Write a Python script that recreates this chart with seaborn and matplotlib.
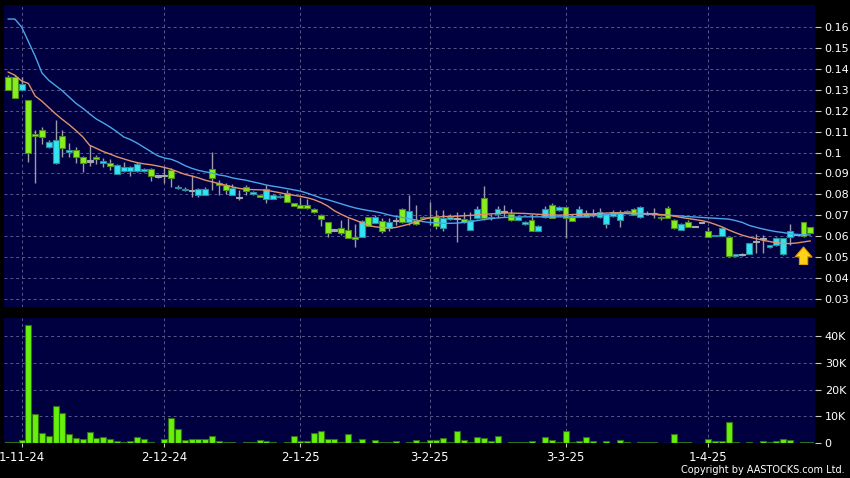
import numpy as np
import matplotlib
matplotlib.use('Agg')
import matplotlib.pyplot as plt
import seaborn as sns

# daily candles, 30-10-2024 .. 25-04-2025 (one entry per trading day)
open_ = [0.136, 0.136, 0.130, 0.125, 0.109, 0.111, 0.1028, 0.0948, 0.108, 0.1003,
         0.101, 0.0977, 0.096, 0.0977, 0.0948, 0.0948, 0.0897, 0.091, 0.091, 0.0913,
         0.0913, 0.092, 0.0888, 0.089, 0.0916, 0.0832, 0.0822, 0.082, 0.0797, 0.0797,
         0.092, 0.0856, 0.0845, 0.0797, 0.0786, 0.0837, 0.080, 0.0797, 0.0776, 0.0776,
         0.0786, 0.0808, 0.0757, 0.0748, 0.0748, 0.0729, 0.0703, 0.0666, 0.063, 0.0638,
         0.063, 0.0595, 0.0595, 0.0693, 0.0665, 0.0674, 0.0638, 0.0677, 0.0729, 0.067,
         0.0677, 0.0693, 0.0693, 0.0693, 0.0638, 0.0684, 0.0685, 0.0681, 0.063, 0.0686,
         0.0781, 0.0686, 0.0706, 0.072, 0.0706, 0.0677, 0.0658, 0.0677, 0.0626, 0.0693,
         0.0749, 0.0725, 0.0738, 0.0693, 0.0693, 0.071, 0.0705, 0.0693, 0.066, 0.0695,
         0.0677, 0.0717, 0.0729, 0.0693, 0.0708, 0.071, 0.0693, 0.0736, 0.0677, 0.063,
         0.0666, 0.0645, 0.0666, 0.0626, 0.060, 0.0602, 0.0595, 0.0505, 0.0514, 0.0514,
         0.0574, 0.059, 0.0547, 0.0558, 0.0514, 0.0595, 0.0609, 0.0666, 0.0645]
high_ = [0.137, 0.137, 0.136, 0.125, 0.111, 0.112, 0.106, 0.1156, 0.111, 0.1045,
         0.1025, 0.0985, 0.1037, 0.099, 0.0975, 0.097, 0.0945, 0.0955, 0.0935, 0.0955,
         0.0925, 0.0925, 0.089, 0.0933, 0.0925, 0.0845, 0.0835, 0.0893, 0.083, 0.0835,
         0.1004, 0.0869, 0.0853, 0.0848, 0.0821, 0.0845, 0.0815, 0.080, 0.0845, 0.080,
         0.0795, 0.0821, 0.076, 0.0786, 0.0776, 0.0735, 0.0706, 0.0668, 0.0635, 0.0677,
         0.0686, 0.066, 0.0677, 0.0693, 0.0703, 0.0686, 0.0685, 0.0693, 0.0735, 0.0797,
         0.0749, 0.0697, 0.0765, 0.0725, 0.0725, 0.0705, 0.0717, 0.0717, 0.0715, 0.0745,
         0.084, 0.0705, 0.0745, 0.0749, 0.073, 0.0695, 0.0675, 0.0705, 0.0655, 0.0745,
         0.0758, 0.0745, 0.0741, 0.0705, 0.0745, 0.0725, 0.0729, 0.0733, 0.0705, 0.0725,
         0.0725, 0.0727, 0.0735, 0.0745, 0.0722, 0.0733, 0.0697, 0.0745, 0.0682, 0.0665,
         0.0677, 0.0648, 0.0668, 0.0645, 0.0606, 0.0645, 0.0595, 0.0515, 0.0518, 0.0566,
         0.0613, 0.0605, 0.0558, 0.0598, 0.0593, 0.0657, 0.0612, 0.0666, 0.0645]
low_ = [0.130, 0.126, 0.130, 0.0955, 0.0855, 0.104, 0.102, 0.0945, 0.098, 0.0977,
        0.095, 0.0908, 0.0935, 0.0945, 0.093, 0.0915, 0.0897, 0.0905, 0.089, 0.0905,
        0.0905, 0.0865, 0.088, 0.0856, 0.0837, 0.0825, 0.0815, 0.0789, 0.079, 0.0795,
        0.082, 0.0797, 0.080, 0.0797, 0.0773, 0.0797, 0.0795, 0.0786, 0.076, 0.0776,
        0.0782, 0.0765, 0.0746, 0.0736, 0.073, 0.071, 0.0649, 0.0595, 0.0625, 0.0605,
        0.059, 0.055, 0.0595, 0.0649, 0.0665, 0.0618, 0.0626, 0.0655, 0.0665, 0.0653,
        0.0653, 0.0684, 0.0653, 0.0636, 0.0625, 0.068, 0.0574, 0.0665, 0.063, 0.0684,
        0.0677, 0.068, 0.0686, 0.0693, 0.0674, 0.0677, 0.0655, 0.0626, 0.0626, 0.0686,
        0.0686, 0.072, 0.0593, 0.0674, 0.069, 0.069, 0.069, 0.0686, 0.064, 0.069,
        0.0645, 0.0715, 0.0701, 0.0688, 0.0705, 0.0689, 0.068, 0.0689, 0.0636, 0.063,
        0.0645, 0.0642, 0.0664, 0.0595, 0.060, 0.0602, 0.050, 0.0505, 0.0505, 0.0514,
        0.0518, 0.0518, 0.0545, 0.0555, 0.051, 0.0558, 0.0606, 0.0598, 0.0614]
close_ = [0.130, 0.126, 0.133, 0.100, 0.108, 0.1075, 0.105, 0.106, 0.102, 0.1012,
          0.0977, 0.0948, 0.096, 0.0968, 0.096, 0.0935, 0.0939, 0.0929, 0.093, 0.0945,
          0.0922, 0.0888, 0.0888, 0.089, 0.0877, 0.0836, 0.0826, 0.082, 0.0827, 0.0827,
          0.0877, 0.0845, 0.0821, 0.0829, 0.0786, 0.0818, 0.0813, 0.0786, 0.0824, 0.0797,
          0.0792, 0.0765, 0.0746, 0.0736, 0.0737, 0.0717, 0.0684, 0.0614, 0.063, 0.0614,
          0.0593, 0.0585, 0.0674, 0.0649, 0.0693, 0.0626, 0.0666, 0.0677, 0.067, 0.0722,
          0.0658, 0.0686, 0.0686, 0.0649, 0.0686, 0.0693, 0.0685, 0.067, 0.0677, 0.0729,
          0.0686, 0.069, 0.0729, 0.072, 0.0677, 0.0693, 0.067, 0.0626, 0.0649, 0.0729,
          0.0686, 0.0738, 0.0686, 0.0674, 0.0729, 0.0693, 0.0705, 0.0717, 0.0705, 0.0715,
          0.0717, 0.0722, 0.0701, 0.0738, 0.0712, 0.071, 0.0686, 0.0689, 0.0638, 0.0657,
          0.0645, 0.0645, 0.0666, 0.0595, 0.0604, 0.0638, 0.0505, 0.0514, 0.0514, 0.0566,
          0.0574, 0.059, 0.0556, 0.0593, 0.0593, 0.0626, 0.0609, 0.060, 0.0614]

# volume in thousands of shares
vol_k = [0.5, 0.3, 1.0, 44.0, 10.7, 3.9, 2.6, 13.9, 11.4, 3.4,
         1.9, 1.4, 4.0, 1.9, 2.1, 1.6, 0.8, 0.3, 0.6, 2.1,
         1.4, 0.3, 0.1, 1.6, 9.4, 5.2, 1.0, 1.4, 1.4, 1.4,
         2.7, 0.9, 0.4, 0.4, 0.1, 0.3, 0.5, 1.2, 0.6, 0.2,
         0.1, 0.4, 2.7, 0.9, 0.9, 3.9, 4.6, 1.5, 1.5, 0.5,
         3.2, 0.2, 1.5, 0.1, 1.0, 0.3, 0.3, 0.7, 0.1, 0.3,
         1.1, 0.3, 1.0, 1.0, 1.7, 0.3, 4.5, 1.1, 0.3, 2.1,
         1.9, 0.9, 2.7, 0.1, 0.3, 0.4, 0.3, 0.7, 0.1, 2.1,
         1.1, 0.2, 4.5, 0.3, 0.7, 2.1, 0.9, 0.1, 0.7, 0.1,
         1.1, 0.4, 0.1, 0.3, 0.3, 0.3, 0.1, 0.1, 3.2, 0.3,
         0.2, 0.1, 0.1, 1.4, 0.6, 0.6, 7.7, 0.2, 0.1, 0.3,
         0.1, 0.7, 0.5, 0.7, 1.4, 1.2, 0.1, 0.5, 0.5]

# moving averages as drawn on the chart
ma_fast = [0.1385, 0.137, 0.1342, 0.133, 0.127, 0.1245, 0.1215, 0.1185, 0.1158, 0.1133,
           0.1105, 0.1075, 0.1035, 0.102, 0.1005, 0.0993, 0.098, 0.097, 0.096, 0.0952,
           0.0946, 0.0942, 0.0936, 0.0929, 0.092, 0.0908, 0.0896, 0.0888, 0.0879, 0.0868,
           0.086, 0.0852, 0.0844, 0.0836, 0.0829, 0.0824, 0.0823, 0.0822, 0.082, 0.0814,
           0.0808, 0.0801, 0.0796, 0.0791, 0.0784, 0.0775, 0.0762, 0.0745, 0.0722, 0.0705,
           0.069, 0.0678, 0.0665, 0.0652, 0.0645, 0.0642, 0.064, 0.0642, 0.065, 0.0658,
           0.067, 0.068, 0.0688, 0.0692, 0.0694, 0.0695, 0.0696, 0.0698, 0.07, 0.0702,
           0.0705, 0.0707, 0.0709, 0.0711, 0.0711, 0.071, 0.0709, 0.0707, 0.0705, 0.0703,
           0.0702, 0.0701, 0.0702, 0.0704, 0.0705, 0.0706, 0.0707, 0.0709, 0.0711, 0.0712,
           0.0712, 0.0711, 0.071, 0.0709, 0.0708, 0.0706, 0.0704, 0.0701, 0.0696, 0.069,
           0.0685, 0.068, 0.0675, 0.0668, 0.0657, 0.0645, 0.063, 0.0617, 0.0605, 0.0596,
           0.0589, 0.0581, 0.0575, 0.0569, 0.0566, 0.0565, 0.0568, 0.0573, 0.0578]
ma_slow = [0.1638, 0.1638, 0.160, 0.153, 0.146, 0.138, 0.1345, 0.132, 0.1295, 0.1265,
           0.1235, 0.1212, 0.1185, 0.116, 0.1142, 0.1122, 0.110, 0.1075, 0.1062, 0.1045,
           0.1025, 0.1005, 0.0985, 0.0974, 0.0968, 0.0955, 0.0938, 0.0925, 0.0915, 0.0908,
           0.0902, 0.0893, 0.0888, 0.0879, 0.0873, 0.0868, 0.086, 0.0853, 0.0845, 0.0839,
           0.0834, 0.0828, 0.0822, 0.0816, 0.0806, 0.0795, 0.0783, 0.0775, 0.0765, 0.0755,
           0.0745, 0.0736, 0.0729, 0.0723, 0.0718, 0.0711, 0.0702, 0.0695, 0.069, 0.0684,
           0.0678, 0.067, 0.0666, 0.0664, 0.0662, 0.0662, 0.0663, 0.0666, 0.067, 0.0675,
           0.068, 0.0684, 0.0688, 0.069, 0.0691, 0.0692, 0.0693, 0.0693, 0.0693, 0.0693,
           0.0693, 0.0693, 0.0693, 0.0693, 0.0694, 0.0696, 0.0698, 0.070, 0.0703, 0.0706,
           0.0709, 0.0708, 0.0707, 0.0706, 0.0705, 0.0704, 0.0702, 0.0701, 0.0699, 0.0697,
           0.0694, 0.0692, 0.069, 0.0688, 0.0686, 0.0684, 0.0682, 0.0675, 0.0666, 0.0652,
           0.0643, 0.0635, 0.0628, 0.0622, 0.0618, 0.0612, 0.0609, 0.0607, 0.0606]

date_ticks = [2, 23, 43, 62, 82, 103]
date_labels = ['1-11-24', '2-12-24', '2-1-25', '3-2-25', '3-3-25', '1-4-25']
price_ticks = [0.03, 0.04, 0.05, 0.06, 0.07, 0.08, 0.09, 0.10, 0.11, 0.12, 0.13, 0.14, 0.15, 0.16]
vol_ticks = [0, 10, 20, 30, 40]
vol_labels = ['0', '10K', '20K', '30K', '40K']
signal_day = 117

BG = '#000040'
GRID = '#58588a'
UP_FILL, UP_EDGE = '#33e3f2', '#2a8d9c'
DN_FILL, DN_EDGE = '#86f01e', '#4f8c1c'
FLAT = '#a8a8b0'

sns.set_style('dark')
plt.rcParams['font.family'] = ['DejaVu Sans']

fig = plt.figure(figsize=(8.5, 4.78), dpi=100, facecolor='black')
ax = fig.add_axes([0.0047, 0.3577, 0.9541, 0.6318])
axv = fig.add_axes([0.0047, 0.0732, 0.9541, 0.2615])

x = np.arange(len(close_))
o = np.array(open_)
c = np.array(close_)
up = c > o
down = c < o
mid = (o + c) / 2
h = np.maximum(np.abs(c - o), 0.0006)
fill = np.where(up, UP_FILL, np.where(down, DN_FILL, FLAT))
edge = np.where(up, UP_EDGE, np.where(down, DN_EDGE, FLAT))

# wicks then bodies
ax.vlines(x, low_, high_, color='#9c9cab', lw=1.0, zorder=2)
ax.bar(x, h, bottom=mid - h / 2, width=0.86, color=fill, edgecolor=edge, linewidth=0.8, zorder=3)

sns.lineplot(x=x, y=ma_slow, ax=ax, color='#4aa6ea', lw=1.0, zorder=4)
sns.lineplot(x=x, y=ma_fast, ax=ax, color='#e0916c', lw=1.0, zorder=4)

ax.annotate('', xy=(signal_day, 0.0562), xytext=(signal_day, 0.0452),
            arrowprops=dict(arrowstyle='simple,head_length=0.7,head_width=1.2,tail_width=0.6',
                            fc='#ffd21a', ec='#d99a00', lw=0.8), zorder=6)

sns.barplot(x=x, y=vol_k, ax=axv, native_scale=True, color='#66f00c', edgecolor='#2f7012',
            linewidth=0.8, width=0.9, errorbar=None, saturation=1)

for a in (ax, axv):
    a.set_facecolor(BG)
    for s in a.spines.values():
        s.set_visible(False)
    a.set_xlim(-0.59, 118.68)
    a.set_xticks(date_ticks)
    a.yaxis.tick_right()
    a.grid(True, color=GRID, linestyle=(0, (3, 3)), linewidth=0.7)
    a.set_axisbelow(True)
    a.set_xlabel('')
    a.set_ylabel('')
    a.tick_params(axis='y', colors='#c8c8c8', labelcolor='white', labelsize=8,
                  length=4, pad=3, direction='out', right=True, left=False)

ax.set_ylim(0.0262, 0.1705)
ax.set_yticks(price_ticks)
ax.set_yticklabels([f'{v:g}' for v in price_ticks])
ax.tick_params(axis='x', length=0, labelbottom=False)

axv.set_ylim(0, 46.8)
axv.set_yticks(vol_ticks)
axv.set_yticklabels(vol_labels)
axv.set_xticklabels(date_labels)
axv.tick_params(axis='x', colors='#c8c8c8', labelcolor='white', labelsize=8.5,
                length=3, pad=3, direction='out', bottom=True)

fig.text(0.994, 0.017, 'Copyright by AASTOCKS.com Ltd.', ha='right', va='center',
         color='white', fontsize=7)

fig.savefig('out.png', dpi=100, facecolor='black')
